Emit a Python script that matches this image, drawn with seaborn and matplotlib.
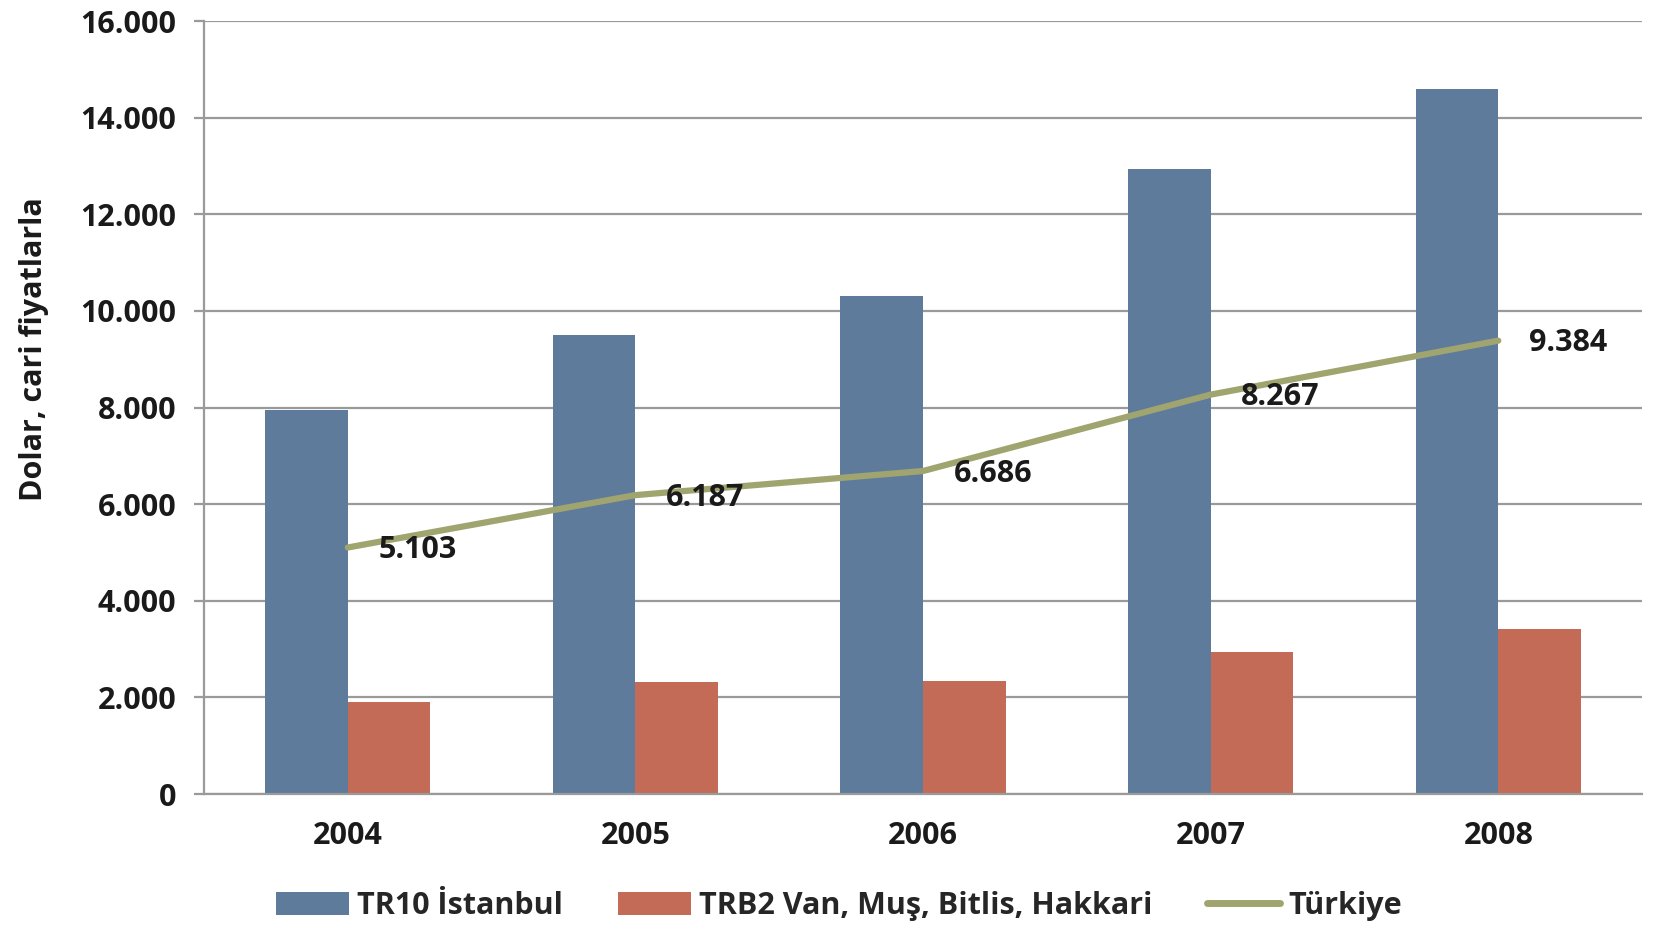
import numpy as np
import pandas as pd
import matplotlib
matplotlib.use("Agg")
import matplotlib.pyplot as plt
import seaborn as sns
from matplotlib.ticker import FuncFormatter
from matplotlib.lines import Line2D
from matplotlib.patches import Patch

years = ["2004", "2005", "2006", "2007", "2008"]
istanbul = [7950, 9500, 10300, 12930, 14600]
van = [1900, 2310, 2330, 2950, 3410]
turkiye = [5103, 6187, 6686, 8267, 9384]

series_names = ["TR10 İstanbul", "TRB2 Van, Muş, Bitlis, Hakkari", "Türkiye"]
colors = ["#5f7b9c", "#c36b56", "#a0a56f"]

sns.set_style("white")
plt.rcParams["font.family"] = ["Open Sans", "DejaVu Sans"]
plt.rcParams["font.weight"] = "bold"

FS = 22

df = pd.DataFrame({
    "year": years * 2,
    "value": istanbul + van,
    "region": [series_names[0]] * len(years) + [series_names[1]] * len(years),
})

fig = plt.figure(figsize=(16.61, 9.26), dpi=100)
ax = fig.add_axes([0.1228, 0.1425, 0.8658, 0.8348])

sns.barplot(data=df, x="year", y="value", hue="region", order=years,
            hue_order=series_names[:2], palette=colors[:2], width=0.574,
            gap=0, saturation=1, edgecolor="none", legend=False, ax=ax)

pos = np.arange(len(years))
sns.lineplot(x=pos, y=turkiye, color=colors[2], linewidth=4.5, ax=ax,
             legend=False, zorder=5)

def dotted(v, _=None):
    return f"{int(v):,}".replace(",", ".")

# value labels just right of each Türkiye point
for x, v in zip(pos, turkiye):
    ax.annotate(dotted(v), (x, v), xytext=(22, -2), textcoords="offset points",
                ha="left", va="center", fontsize=FS, fontweight="bold",
                color="#1a1a1a", zorder=6)

ax.set_ylim(0, 16000)
ax.set_xlim(-0.5, len(years) - 0.5)
ax.set_yticks(np.arange(0, 16001, 2000))
ax.yaxis.set_major_formatter(FuncFormatter(dotted))
ax.yaxis.grid(True, color="#9a9a9a", linewidth=1.6)
ax.set_axisbelow(True)

for side in ["top", "right"]:
    ax.spines[side].set_visible(False)
for side in ["left", "bottom"]:
    ax.spines[side].set_color("#9a9a9a")
    ax.spines[side].set_linewidth(1.6)

ax.tick_params(axis="y", left=True, length=7, width=1.6, color="#9a9a9a",
               pad=13, labelsize=FS, labelcolor="#1a1a1a")
ax.tick_params(axis="x", bottom=False, pad=16, labelsize=FS, labelcolor="#1a1a1a")
for lab in ax.get_xticklabels() + ax.get_yticklabels():
    lab.set_fontweight("bold")

ax.set_xlabel("")
ax.set_ylabel("Dolar, cari fiyatlarla", fontsize=FS, fontweight="bold", color="#1a1a1a")
ax.yaxis.set_label_coords(-0.108, 0.575)

handles = [
    Patch(facecolor=colors[0], edgecolor="none", label=series_names[0]),
    Patch(facecolor=colors[1], edgecolor="none", label=series_names[1]),
    Line2D([0], [0], color=colors[2], linewidth=5, label=series_names[2]),
]
fig.legend(handles=handles, loc="center", bbox_to_anchor=(0.505, 0.0216),
           ncol=3, frameon=False, handlelength=2.4,
           handleheight=0.8, handletextpad=0.25, columnspacing=1.8,
           prop={"weight": "bold", "size": FS})

fig.savefig("out.png", dpi=100)
